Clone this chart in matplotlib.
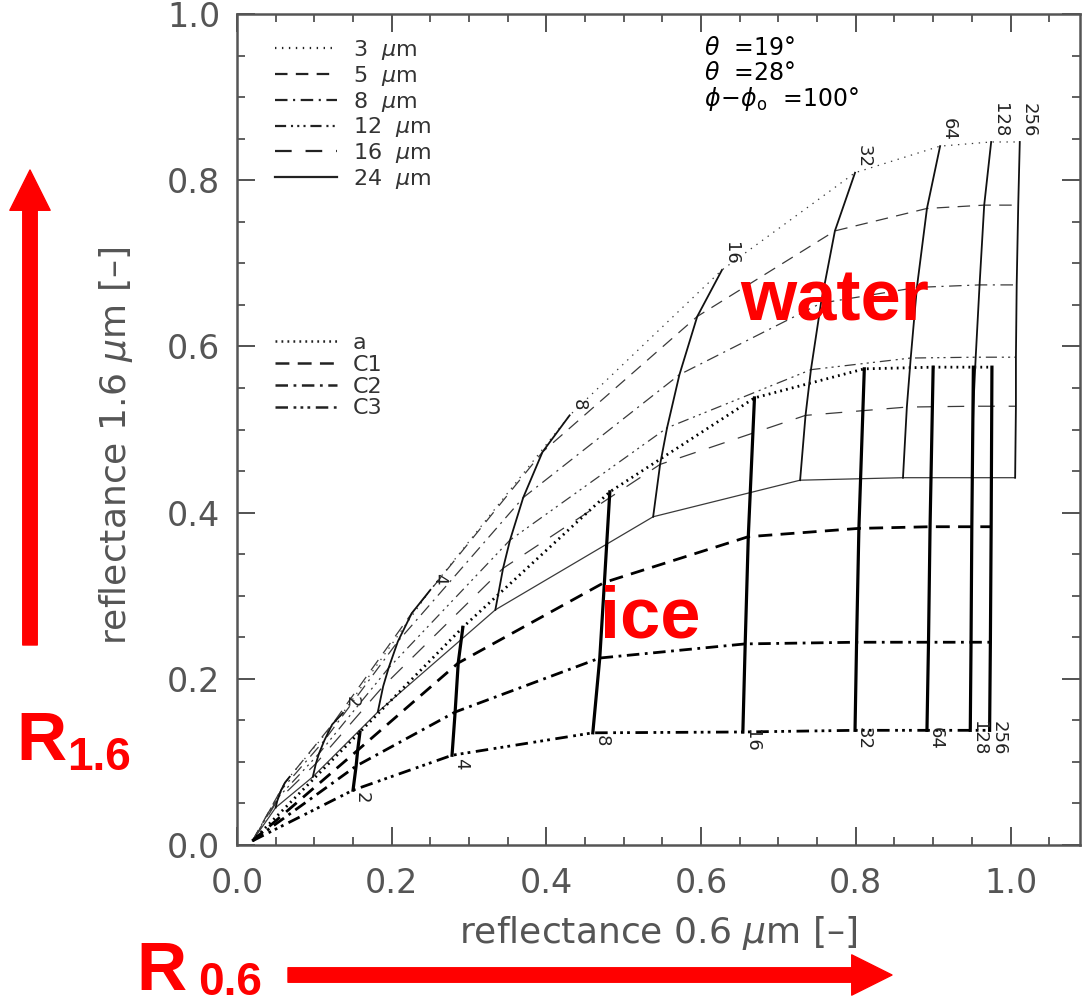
import matplotlib
matplotlib.use("Agg")
import matplotlib.pyplot as plt
from matplotlib.lines import Line2D
from matplotlib.ticker import MultipleLocator, FormatStrFormatter

plt.rcParams["lines.scale_dashes"] = False
plt.rcParams["font.family"] = ["DejaVu Sans"]
plt.rcParams["mathtext.fontset"] = "dejavusans"

# ── LUT values ───────────────────────────────────────────────────────────────
surface_x = 0.02
surface_y = 0.005

# water: effective radius curves, points at optical thickness water_tau
water_tau = [1, 2, 4, 8, 16, 32, 64, 128, 256]
water_tau_labels = ["", "2", "4", "8", "16", "32", "64", "128", "256"]
water_radius_labels = ["3", "5", "8", "12", "16", "24"]
w3_x = [0.068, 0.137, 0.250, 0.430, 0.627, 0.799, 0.909, 0.975, 1.012]
w3_y = [0.082, 0.159, 0.307, 0.517, 0.692, 0.809, 0.841, 0.846, 0.846]
w5_x = [0.062, 0.123, 0.226, 0.395, 0.595, 0.773, 0.892, 0.966, 1.010]
w5_y = [0.075, 0.145, 0.279, 0.473, 0.636, 0.739, 0.766, 0.770, 0.770]
w8_x = [0.057, 0.113, 0.208, 0.370, 0.572, 0.755, 0.879, 0.960, 1.008]
w8_y = [0.066, 0.126, 0.245, 0.418, 0.566, 0.652, 0.671, 0.674, 0.674]
w12_x = [0.054, 0.106, 0.196, 0.353, 0.556, 0.742, 0.871, 0.955, 1.007]
w12_y = [0.058, 0.110, 0.213, 0.367, 0.502, 0.572, 0.586, 0.587, 0.587]
w16_x = [0.052, 0.102, 0.189, 0.344, 0.547, 0.735, 0.866, 0.952, 1.007]
w16_y = [0.053, 0.098, 0.191, 0.333, 0.458, 0.517, 0.527, 0.528, 0.528]
w24_x = [0.050, 0.098, 0.182, 0.334, 0.538, 0.728, 0.861, 0.950, 1.006]
w24_y = [0.045, 0.082, 0.160, 0.283, 0.395, 0.439, 0.442, 0.442, 0.442]

# ice: habit curves, points at optical thickness ice_tau
ice_tau = [2, 4, 8, 16, 32, 64, 128, 256]
ice_tau_labels = ["2", "4", "8", "16", "32", "64", "128", "256"]
ice_habit_labels = ["a", "C1", "C2", "C3"]
ia_x = [0.159, 0.292, 0.482, 0.669, 0.811, 0.900, 0.952, 0.976]
ia_y = [0.136, 0.262, 0.425, 0.538, 0.573, 0.575, 0.575, 0.575]
c1_x = [0.156, 0.286, 0.475, 0.661, 0.804, 0.896, 0.950, 0.975]
c1_y = [0.114, 0.219, 0.316, 0.371, 0.381, 0.383, 0.383, 0.383]
c2_x = [0.154, 0.282, 0.469, 0.657, 0.801, 0.894, 0.949, 0.974]
c2_y = [0.095, 0.160, 0.225, 0.242, 0.244, 0.244, 0.244, 0.244]
c3_x = [0.150, 0.278, 0.460, 0.654, 0.799, 0.892, 0.948, 0.973]
c3_y = [0.066, 0.108, 0.135, 0.136, 0.138, 0.138, 0.138, 0.138]

# ── line styles (IDL-like) ───────────────────────────────────────────────────
DOT   = (0, (1.0, 4.0))
DASH  = (0, (9, 6))
DDOT  = (0, (9, 4, 1.5, 4))
D3DOT = (0, (8, 3.5, 1.5, 3, 1.5, 3, 1.5, 3.5))
LDASH = (0, (12, 10))
water_styles = [DOT, DASH, DDOT, D3DOT, LDASH, "-"]
ice_styles = [(0, (1.3, 3.0)), (0, (10, 6)), (0, (9, 4, 2, 4)),
              (0, (9, 4, 2, 3, 2, 3, 2, 4))]

W, H = 1082, 1006
fig = plt.figure(figsize=(W / 100, H / 100), dpi=100)
ax = fig.add_axes([237 / W, 1 - 845 / H, 843 / W, 831 / H])

water_x = [w3_x, w5_x, w8_x, w12_x, w16_x, w24_x]
water_y = [w3_y, w5_y, w8_y, w12_y, w16_y, w24_y]
ice_x = [ia_x, c1_x, c2_x, c3_x]
ice_y = [ia_y, c1_y, c2_y, c3_y]

# water radius curves (thin)
for xs, ys, ls in zip(water_x, water_y, water_styles):
    ax.plot([surface_x] + xs, [surface_y] + ys, ls=ls, color="#3a3a3a", lw=0.9)

# ice habit curves (thick)
for xs, ys, ls in zip(ice_x, ice_y, ice_styles):
    ax.plot([surface_x] + xs, [surface_y] + ys, ls=ls, color="black", lw=2.0)

# water optical thickness isolines
for i, lab in enumerate(water_tau_labels):
    tx = [xs[i] for xs in water_x]
    ty = [ys[i] for ys in water_y]
    ax.plot(tx, ty, "-", color="#111111", lw=1.3)
    if lab:
        ax.annotate(lab, (tx[0], ty[0]), xytext=(9, 5), textcoords="offset pixels",
                    rotation=-90, ha="center", va="bottom", fontsize=13, color="#222222")

# ice optical thickness isolines
for i, lab in enumerate(ice_tau_labels):
    tx = [xs[i] for xs in ice_x]
    ty = [ys[i] for ys in ice_y]
    ax.plot(tx, ty, "-", color="black", lw=2.3)
    ax.annotate(lab, (tx[-1], ty[-1]), xytext=(9, -8), textcoords="offset pixels",
                rotation=-90, ha="center", va="center", fontsize=13, color="#222222")

# ── axes ─────────────────────────────────────────────────────────────────────
ax.set_xlim(0, 843 / 773.5)
ax.set_ylim(0, 1.0)
ax.xaxis.set_minor_locator(MultipleLocator(0.05))
ax.yaxis.set_major_locator(MultipleLocator(0.2))
ax.yaxis.set_minor_locator(MultipleLocator(0.05))
ax.set_xticks([0, 0.2, 0.4, 0.6, 0.8, 1.0])
ax.tick_params(which="both", direction="in", top=True, right=True,
               colors="#444444", labelcolor="#555555", labelsize=24)
ax.tick_params(which="major", length=13, width=1.3)
ax.tick_params(which="minor", length=6, width=1.2)
ax.tick_params(axis="x", pad=16)
ax.tick_params(axis="y", pad=12)
ax.xaxis.set_major_formatter(FormatStrFormatter("%.1f"))
ax.yaxis.set_major_formatter(FormatStrFormatter("%.1f"))
for sp in ax.spines.values():
    sp.set_color("#555555")
    sp.set_linewidth(1.8)

ax.set_xlabel(r"reflectance 0.6 $\mu$m [–]", fontsize=26, color="#555555")
ax.set_ylabel(r"reflectance 1.6 $\mu$m [–]", fontsize=26, color="#555555")
ax.xaxis.set_label_coords(0.5, -0.083)
ax.yaxis.set_label_coords(-0.121, 0.48)

# legends
leg_kw = dict(loc="upper left", frameon=False, fontsize=16, handlelength=2.8,
              handletextpad=0.7, labelspacing=0.08, borderpad=0, borderaxespad=0)
h_water = [Line2D([], [], ls=ls, color="#222222", lw=1.6) for ls in water_styles]
leg1 = ax.legend(h_water, [r"%s  $\mu$m" % r for r in water_radius_labels],
                 bbox_to_anchor=(0.045, 0.971), **leg_kw)
for t in leg1.get_texts():
    t.set_color("#333333")
ax.add_artist(leg1)
h_ice = [Line2D([], [], ls=ls, color="#222222", lw=1.8) for ls in ice_styles]
leg2 = ax.legend(h_ice, ice_habit_labels, bbox_to_anchor=(0.045, 0.616), **leg_kw)
for t in leg2.get_texts():
    t.set_color("#333333")

# geometry text
ax.text(0.554, 0.974, r"$\theta$  =19°", transform=ax.transAxes, fontsize=17, va="top")
ax.text(0.554, 0.944, r"$\theta$  =28°", transform=ax.transAxes, fontsize=17, va="top")
ax.text(0.554, 0.914, r"$\phi\!-\!\phi_\mathrm{o}$  =100°", transform=ax.transAxes,
        fontsize=17, va="top")

# ── red annotations ──────────────────────────────────────────────────────────
red = "#ff0000"
rfont = dict(family=["Liberation Sans", "DejaVu Sans"], weight="bold", color=red)
fig.text(740 / W, 1 - 320 / H, "water", fontsize=52, **rfont)
fig.text(600 / W, 1 - 637 / H, "ice", fontsize=52, **rfont)
fig.text(16 / W, 1 - 760 / H, "R", fontsize=50, **rfont)
fig.text(67 / W, 1 - 770 / H, "1.6", fontsize=33, **rfont)
fig.text(136 / W, 2 / H, "R", fontsize=50, va="bottom", **rfont)
fig.text(198 / W, 1 / H, "0.6", fontsize=33, va="bottom", **rfont)

arrow = dict(arrowstyle="simple,head_length=1.0,head_width=1.0,tail_width=0.36",
             color=red, shrinkA=0, shrinkB=0, mutation_scale=29)
ax.annotate("", xy=(30, H - 170), xytext=(30, H - 645), xycoords="figure pixels",
            textcoords="figure pixels", arrowprops=arrow, annotation_clip=False)
ax.annotate("", xy=(892, H - 975), xytext=(288, H - 975), xycoords="figure pixels",
            textcoords="figure pixels", arrowprops=arrow, annotation_clip=False)

fig.savefig("out.png", dpi=100)
